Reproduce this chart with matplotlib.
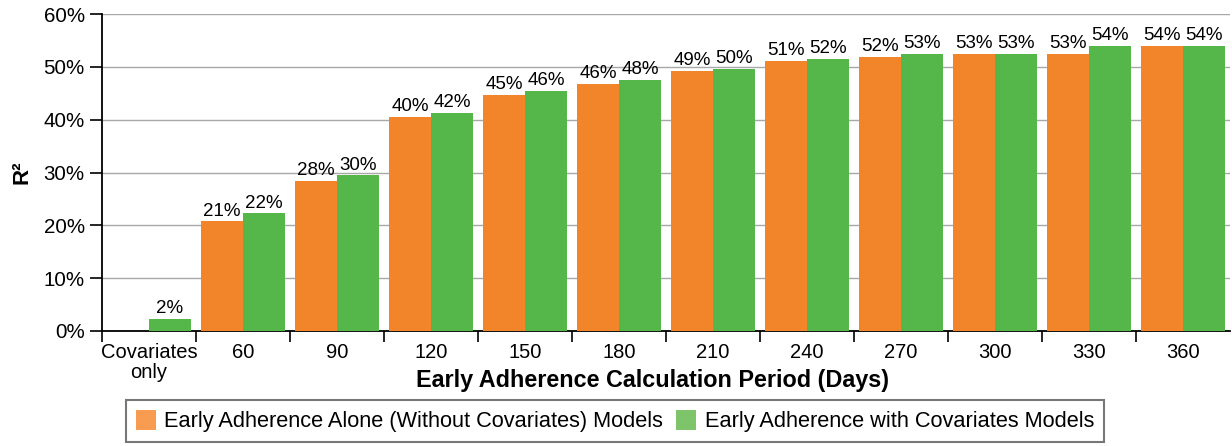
import matplotlib
matplotlib.use("Agg")
import matplotlib.pyplot as plt
import numpy as np
from matplotlib.patches import Patch

plt.rcParams['font.family'] = ['Liberation Sans', 'DejaVu Sans']

categories = ["Covariates\nonly", "60", "90", "120", "150", "180", "210", "240", "270", "300", "330", "360"]
alone = [np.nan, 20.8, 28.4, 40.5, 44.7, 46.8, 49.2, 51.1, 51.9, 52.5, 52.5, 54.0]
with_cov = [2.3, 22.3, 29.5, 41.3, 45.5, 47.5, 49.6, 51.5, 52.5, 52.5, 54.0, 54.0]
alone_labels = ["", "21%", "28%", "40%", "45%", "46%", "49%", "51%", "52%", "53%", "53%", "54%"]
cov_labels = ["2%", "22%", "30%", "42%", "46%", "48%", "50%", "52%", "53%", "53%", "54%", "54%"]
yticks = [0, 10, 20, 30, 40, 50, 60]

orange = "#F2852A"
green = "#55B74A"
orange_l = "#F89C52"
green_l = "#7DC46A"

fig = plt.figure(figsize=(12.32, 4.46), dpi=100)
ax = fig.add_axes([102/1232, 1-331/446, 1128/1232, 317/446])

x = np.arange(len(categories))
w = 0.445
ax.bar(x - w/2, alone, width=w, color=orange, zorder=3)
ax.bar(x + w/2, with_cov, width=w, color=green, zorder=3)

for i in range(len(categories)):
    if not np.isnan(alone[i]) and alone_labels[i]:
        ax.text(x[i] - w/2, alone[i] + 0.3, alone_labels[i], ha='center', va='bottom', fontsize=13.5, zorder=4)
    ax.text(x[i] + w/2, with_cov[i] + 0.3, cov_labels[i], ha='center', va='bottom', fontsize=13.5, zorder=4)

ax.set_xlim(-0.5, len(categories) - 0.5)
ax.set_ylim(0, 60)
ax.set_yticks(yticks)
ax.set_yticklabels([f"{v}%" for v in yticks], fontsize=14.8)
ax.yaxis.grid(True, color="#A8A8A8", linewidth=1.0, zorder=0)
ax.set_axisbelow(True)

ax.set_xticks(x)
ax.set_xticklabels(categories, fontsize=14.5, linespacing=1.0)
ax.tick_params(axis='x', which='major', length=0, pad=9)
ax.set_xticks(np.arange(-0.5, len(categories) - 0.5, 1.0), minor=True)
ax.tick_params(axis='x', which='minor', length=8, width=1.2, color='black')
ax.tick_params(axis='y', length=8.5, width=1.2, pad=4)

for s in ['top', 'right']:
    ax.spines[s].set_visible(False)
ax.spines['left'].set_linewidth(1.3)
ax.spines['bottom'].set_linewidth(1.3)

ax.set_ylabel("R²", fontsize=16, fontweight='bold', labelpad=8)
fig.text(653/1232, 1-381/446, "Early Adherence Calculation Period (Days)", fontsize=16.8,
         fontweight='bold', ha='center', va='center')

handles = [Patch(facecolor=orange_l, edgecolor='none'), Patch(facecolor=green_l, edgecolor='none')]
leg = fig.legend(handles, ["Early Adherence Alone (Without Covariates) Models",
                           "Early Adherence with Covariates Models"],
                 loc='center', bbox_to_anchor=(615/1232, 1-421/446), ncol=2, fontsize=15.7,
                 frameon=True, fancybox=False, edgecolor='#555555', handlelength=0.9,
                 handleheight=1.1, handletextpad=0.4, columnspacing=0.6, borderpad=0.45,
                 borderaxespad=0)
leg.get_frame().set_linewidth(1.5)

fig.savefig("out.png", dpi=100)
